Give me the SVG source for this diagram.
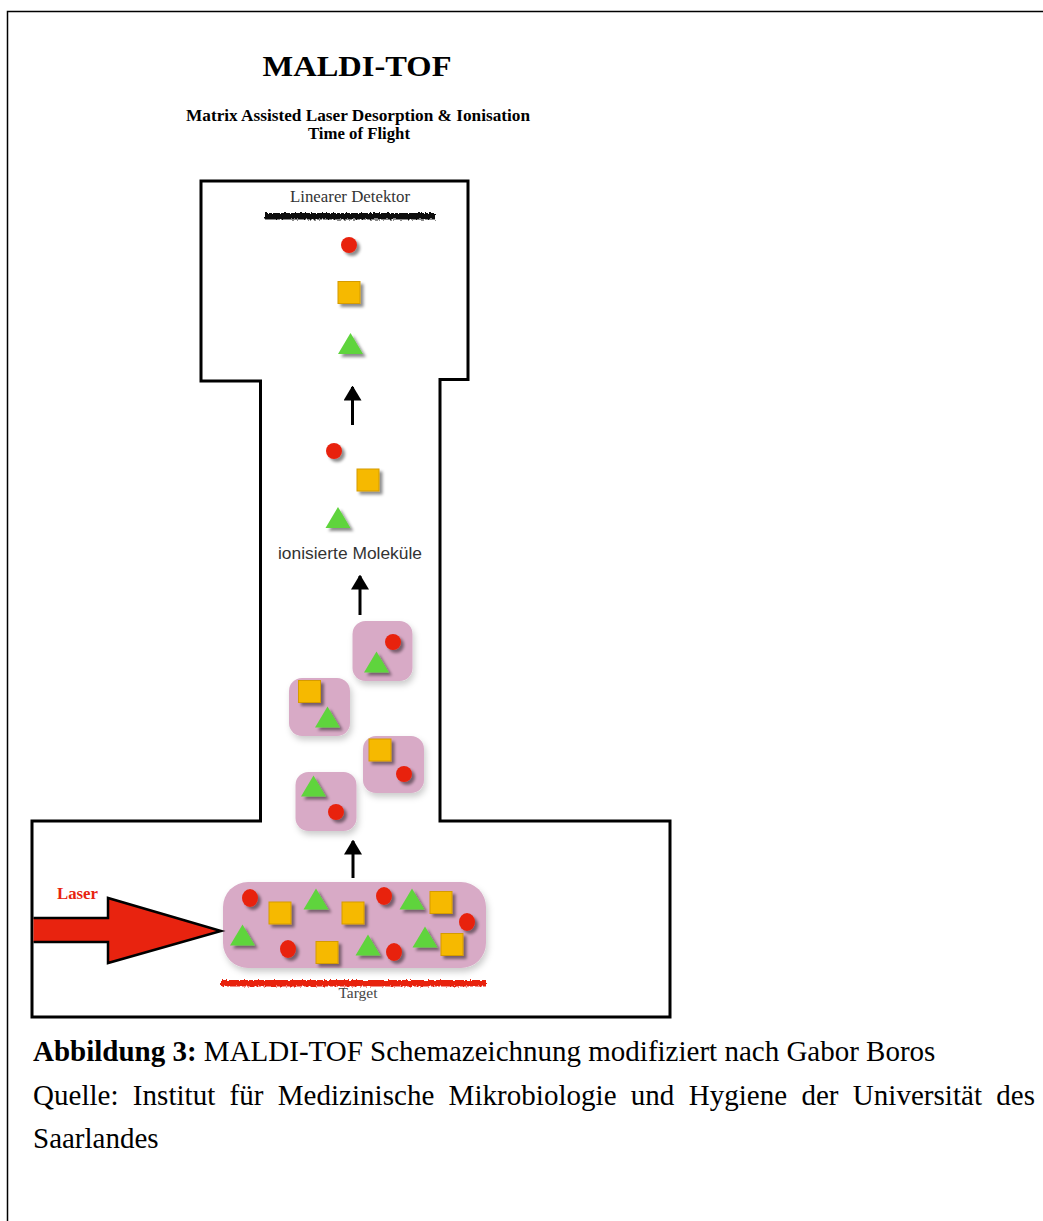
<svg xmlns="http://www.w3.org/2000/svg" xmlns:xlink="http://www.w3.org/1999/xlink" width="1043" height="1221" viewBox="0 0 1043 1221">
<style>
.serif{font-family:"Liberation Serif","Times New Roman",serif}
.sans{font-family:"Liberation Sans",Arial,sans-serif}
.red{fill:#e8230f}
.org{fill:#f6b900;stroke:#d59b00;stroke-width:1}
.grn{fill:#5fd43c}
.pink{fill:#d8aac6}
.sh{filter:url(#ds)}
.wall{fill:none;stroke:#000;stroke-width:3;stroke-linejoin:miter}
.arr{stroke:#000;stroke-width:3;fill:none}
</style>
<defs>
<filter id="ds" x="-50%" y="-50%" width="200%" height="200%">
<feDropShadow dx="3" dy="3" stdDeviation="1.8" flood-color="#000" flood-opacity="0.45"/>
</filter>
<filter id="soft" x="-20%" y="-20%" width="140%" height="140%">
<feDropShadow dx="2" dy="4" stdDeviation="3" flood-color="#000" flood-opacity="0.2"/>
</filter>
<filter id="rough" x="-5%" y="-100%" width="110%" height="300%">
<feTurbulence type="fractalNoise" baseFrequency="0.5" numOctaves="2" seed="3"/>
<feDisplacementMap in="SourceGraphic" scale="4"/>
<feGaussianBlur stdDeviation="0.5"/>
</filter>
<circle id="c" r="8" class="red"/>
<rect id="s" x="-11" y="-11" width="22" height="22" class="org"/>
<path id="t" d="M0,-10.5 L12.5,10.5 L-12.5,10.5 Z" class="grn"/>
<marker id="ah" markerWidth="5" markerHeight="6" refX="4.5" refY="3" orient="auto" markerUnits="strokeWidth">
<path d="M0,0 L5,3 L0,6 Z" fill="#000"/>
</marker>
</defs>
<rect width="1043" height="1221" fill="#fff"/>
<path d="M7.5,1221 V11.5 H1043" fill="none" stroke="#000" stroke-width="1.5"/>

<g id="title">
<text class="serif" x="357" y="76" font-size="30" font-weight="bold" text-anchor="middle" textLength="189" lengthAdjust="spacingAndGlyphs">MALDI-TOF</text>
<text class="serif" x="358" y="121" font-size="16" font-weight="bold" text-anchor="middle" textLength="344" lengthAdjust="spacingAndGlyphs">Matrix Assisted Laser Desorption &amp; Ionisation</text>
<text class="serif" x="359" y="139" font-size="16" font-weight="bold" text-anchor="middle" textLength="102" lengthAdjust="spacingAndGlyphs">Time of Flight</text>
</g>

<g id="instrument">
<path class="wall" d="M201,181 H468 V379.5 H440 V821 H670 V1017 H32 V821 H260.5 V381 H201 Z"/>
</g>

<g id="detector">
<text class="serif" x="350" y="202" font-size="16" fill="#333" text-anchor="middle" textLength="120" lengthAdjust="spacingAndGlyphs">Linearer Detektor</text>
<rect x="265" y="213" width="170" height="6.5" fill="#111" filter="url(#rough)"/>
</g>

<g id="ions-detected" class="sh">
<use href="#c" x="349" y="245"/>
<use href="#s" x="349" y="292.5"/>
<use href="#t" x="350.5" y="343.5"/>
</g>

<g id="ions-flight" class="sh">
<use href="#c" x="334" y="451"/>
<use href="#s" x="368" y="480"/>
<use href="#t" x="338" y="517.5"/>
</g>

<g id="label-ions">
<text class="sans" x="350" y="559" font-size="16.5" fill="#333" text-anchor="middle" textLength="144" lengthAdjust="spacingAndGlyphs">ionisierte Moleküle</text>
</g>

<g id="cluster1">
<rect x="352.5" y="621" width="60" height="60" rx="13" class="pink" filter="url(#soft)"/>
<g class="sh"><use href="#c" x="393" y="642"/><use href="#t" x="376.5" y="662"/></g>
</g>
<g id="cluster2">
<rect x="289" y="678" width="61" height="58" rx="13" class="pink" filter="url(#soft)"/>
<g class="sh"><use href="#s" x="309.5" y="691.5"/><use href="#t" x="327.5" y="717"/></g>
</g>
<g id="cluster3">
<rect x="363" y="736" width="61" height="57" rx="13" class="pink" filter="url(#soft)"/>
<g class="sh"><use href="#s" x="380" y="750"/><use href="#c" x="404" y="774"/></g>
</g>
<g id="cluster4">
<rect x="295.5" y="772" width="61" height="59" rx="13" class="pink" filter="url(#soft)"/>
<g class="sh"><use href="#t" x="313.5" y="786"/><use href="#c" x="336" y="812"/></g>
</g>

<g id="target">
<rect x="223" y="882" width="263" height="86" rx="25" class="pink" filter="url(#soft)"/>
<g class="sh">
<ellipse cx="250" cy="898" rx="8" ry="9" class="red"/>
<ellipse cx="384" cy="896" rx="8" ry="9" class="red"/>
<ellipse cx="467" cy="922" rx="8" ry="9" class="red"/>
<ellipse cx="288" cy="949" rx="8" ry="9" class="red"/>
<ellipse cx="394" cy="952" rx="8" ry="9" class="red"/>
<use href="#s" x="280" y="913"/>
<use href="#s" x="353" y="913"/>
<use href="#s" x="441" y="902.5"/>
<use href="#s" x="327" y="952.5"/>
<use href="#s" x="452" y="944.5"/>
<use href="#t" x="316" y="899"/>
<use href="#t" x="412" y="899"/>
<use href="#t" x="242.5" y="935"/>
<use href="#t" x="368" y="945"/>
<use href="#t" x="425" y="937"/>
</g>
<rect x="221" y="980" width="265" height="6.5" fill="#e8230f" filter="url(#rough)"/>
<text class="serif" x="358" y="998" font-size="15" fill="#444" text-anchor="middle" textLength="39" lengthAdjust="spacingAndGlyphs">Target</text>
</g>

<g id="laser">
<path d="M33.5,918 H108 V898 L221,931 L108,963 V942 H33.5" fill="#e8230f" stroke="#000" stroke-width="2.5" stroke-linejoin="miter"/>
<text class="serif" x="57" y="899" font-size="16.5" font-weight="bold" fill="#e8230f" textLength="41" lengthAdjust="spacingAndGlyphs">Laser</text>
</g>

<g id="connectors">
<line class="arr" x1="352.5" y1="425" x2="352.5" y2="387" marker-end="url(#ah)"/>
<line class="arr" x1="360" y1="615" x2="360" y2="576" marker-end="url(#ah)"/>
<line class="arr" x1="353" y1="878" x2="353" y2="841" marker-end="url(#ah)"/>
</g>

<g id="caption">
<text class="serif" x="33" y="1061" font-size="29" fill="#000"><tspan font-weight="bold">Abbildung 3:</tspan> MALDI-TOF Schemazeichnung modifiziert nach Gabor Boros</text>
<text class="serif" x="33" y="1105" font-size="29" fill="#000" textLength="1002" lengthAdjust="spacing" word-spacing="7">Quelle: Institut für Medizinische Mikrobiologie und Hygiene der Universität des</text>
<text class="serif" x="33" y="1148" font-size="29" fill="#000">Saarlandes</text>
</g>
</svg>
